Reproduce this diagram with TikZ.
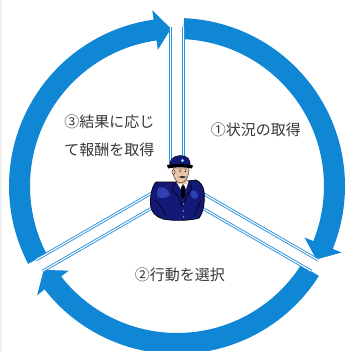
\documentclass[tikz,border=0pt]{standalone}
\usepackage{fontspec}
\newfontfamily\jpfont{Noto Sans CJK JP}
\definecolor{cyclue}{RGB}{16,135,213}
\definecolor{spokeblue}{RGB}{45,145,222}
\definecolor{navy}{RGB}{20,24,118}
\definecolor{navylight}{RGB}{48,64,175}
\definecolor{skin}{RGB}{236,196,168}
\definecolor{labelgray}{RGB}{55,55,55}
\begin{document}
\begin{tikzpicture}[x=1pt,y=1pt,
  cyclearrow/.style={fill=cyclue,draw=none},
  spokeline/.style={draw=spokeblue,double=white,line width=0.9pt,double distance=1.1pt},
  label/.style={font=\jpfont\fontsize{15}{28}\selectfont,text=labelgray,inner sep=0pt,align=center}]
% frame of the picture; centre of the cycle at the origin
\useasboundingbox (-177,-165) rectangle (170,186);
\fill[white] (-177,-165) rectangle (170,186);
\fill[gray!12] (-177,-165) rectangle (-174.5,186);

% radii of the circular arrows
\def\Rout{168}\def\Rin{147}\def\Rmid{157.5}\def\Rho{177.5}\def\Rhi{137.5}

% three clockwise arrows: body from a to b, head tip at t
\foreach \a/\b/\t in {87.6/-22/-27.8, -32.4/-142/-147.8, 207.6/98/92.2}{
  \fill[cyclearrow] (\a:\Rout) arc[start angle=\a,end angle=\b,radius=\Rout]
    -- (\b:\Rho) -- (\t:\Rmid) -- (\b:\Rhi) -- (\b:\Rin)
    arc[start angle=\b,end angle=\a,radius=\Rin] -- cycle;
}

% spokes: each a pair of double lines along a radius
\foreach \p in {90,-30,210}{
  \begin{scope}[rotate=\p]
    \draw[spokeline] (20,6.5) -- (159,6.5);
    \draw[spokeline] (20,-6.5) -- (159,-6.5);
  \end{scope}
}

% the officer in the middle (drawn in pixel-style coordinates)
\begin{scope}[shift={(-177,186)},yscale=-1]
  % jacket
  \fill[navy,draw=black,line width=0.7pt]
    (156,182) .. controls (152,186) and (150,196) .. (150.5,205)
    .. controls (151,212) and (156,217) .. (163,219)
    .. controls (172,221) and (190,221) .. (199,218)
    .. controls (204,212) and (205,200) .. (204,191)
    .. controls (203,185) and (200,182) .. (196,180)
    -- (188,181) -- (176,182) -- cycle;
  % lighter folds of the jacket
  \fill[navylight] (158,188) .. controls (163,186) and (168,188) .. (170,195)
    .. controls (166,199) and (160,199) .. (157,196) -- cycle;
  \fill[navylight] (191,191) .. controls (195,189) and (198,192) .. (198,197)
    .. controls (196,200) and (193,199) .. (191,196) -- cycle;
  % shirt collar and tie
  \fill[white,draw=black,line width=0.3pt] (176,182) -- (181,190) -- (183,184) -- (186,190) -- (189,181) -- cycle;
  \fill[black] (181.5,186) -- (184.5,186) -- (185,196) -- (183,199) -- (181,196) -- cycle;
  % lapels and folds
  \draw[black,line width=0.6pt] (176,182) -- (172,190) -- (178,196) -- (182,206);
  \draw[black,line width=0.6pt] (189,181) -- (192,189) -- (187,195) -- (183,206);
  \draw[black,line width=0.5pt] (155,200) .. controls (160,206) and (164,210) .. (166,216);
  \draw[black,line width=0.5pt] (201,200) .. controls (198,207) and (196,211) .. (195,216);
  % buttons
  \foreach \y in {204,211,217}{\fill[navylight!60!white] (183.5,\y) circle (0.9);}
  % neck and face
  \fill[skin] (177,178) rectangle (187,184);
  \fill[skin,draw=black,line width=0.3pt] (173,168) .. controls (172,175) and (175,182) .. (180,183)
    .. controls (185,183) and (189,178) .. (189,168) -- cycle;
  \fill[skin,draw=black,line width=0.3pt] (173.5,172) ellipse (1.6 and 2.4);
  % moustache, eyes and brows
  \fill[gray!40!black] (178,177) .. controls (181,175.5) and (184,175.5) .. (187,177)
    .. controls (184,178.5) and (181,178.5) .. (178,177) -- cycle;
  \fill[black] (180,171.5) circle (0.6);
  \fill[black] (185.5,171.5) circle (0.6);
  \draw[black,line width=0.3pt] (179,170) -- (181.5,169.8);
  \draw[black,line width=0.3pt] (184.5,169.8) -- (187,170);
  % cap
  \fill[navy,draw=black,line width=0.4pt] (170,166) .. controls (169,160) and (173,156) .. (180,155.5)
    .. controls (187,155.5) and (191,159) .. (190,166) -- cycle;
  \fill[black] (167,165) .. controls (175,163.5) and (186,163.5) .. (193,165.5)
    -- (192,168.5) .. controls (185,167) and (175,167) .. (168,168.5) -- cycle;
  \fill[cyan!40!white] (182.5,160.5) circle (1.6);
\end{scope}

% step labels
\node[label] (collect) at (-67.5,50) {③結果に応じ\\て報酬を取得};
\node[label] (observe) at (79,56) {①状況の取得};
\node[label] (act) at (3,-89) {②行動を選択};
\end{tikzpicture}
\end{document}
